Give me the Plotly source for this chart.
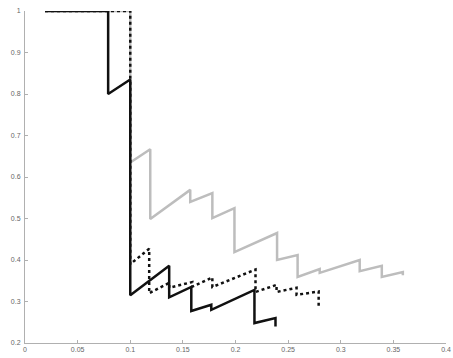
import plotly.graph_objects as go

# Grey solid series
grey_x = [0.019, 0.1, 0.1, 0.119, 0.119, 0.157, 0.157, 0.178, 0.178, 0.199, 0.199,
          0.2395, 0.2395, 0.259, 0.259, 0.28, 0.28, 0.318, 0.318, 0.339, 0.339, 0.359, 0.359]
grey_y = [1.0, 1.0, 0.635, 0.667, 0.499, 0.569, 0.54, 0.561, 0.501, 0.525, 0.419,
          0.465, 0.40, 0.412, 0.359, 0.378, 0.369, 0.40, 0.373, 0.386, 0.359, 0.371, 0.363]

# Black solid series
solid_x = [0.019, 0.079, 0.079, 0.1, 0.1, 0.137, 0.137, 0.158, 0.158, 0.177, 0.177,
           0.218, 0.218, 0.238, 0.238]
solid_y = [1.0, 1.0, 0.8, 0.835, 0.315, 0.386, 0.31, 0.335, 0.277, 0.292, 0.28,
           0.328, 0.248, 0.26, 0.24]

# Black dotted series
dot_x = [0.019, 0.1, 0.1, 0.118, 0.118, 0.137, 0.137, 0.159, 0.159, 0.178, 0.178,
         0.219, 0.219, 0.239, 0.239, 0.258, 0.258, 0.279, 0.279]
dot_y = [1.0, 1.0, 0.39, 0.427, 0.32, 0.345, 0.333, 0.347, 0.336, 0.358, 0.335,
         0.377, 0.323, 0.34, 0.323, 0.333, 0.316, 0.324, 0.285]

x_ticks = [0, 0.05, 0.1, 0.15, 0.2, 0.25, 0.3, 0.35, 0.4]
x_labels = ["0", "0.05", "0.1", "0.15", "0.2", "0.25", "0.3", "0.35", "0.4"]
y_ticks = [0.2, 0.3, 0.4, 0.5, 0.6, 0.7, 0.8, 0.9, 1.0]
y_labels = ["0.2", "0.3", "0.4", "0.5", "0.6", "0.7", "0.8", "0.9", "1"]

fig = go.Figure()
fig.add_trace(go.Scatter(x=grey_x, y=grey_y, mode="lines",
                         line=dict(color="#bdbdbd", width=2.5), showlegend=False))
fig.add_trace(go.Scatter(x=solid_x, y=solid_y, mode="lines",
                         line=dict(color="#111111", width=2.5), showlegend=False))
fig.add_trace(go.Scatter(x=dot_x, y=dot_y, mode="lines",
                         line=dict(color="#111111", width=2.5, dash="dot"), showlegend=False))

axis_common = dict(showgrid=False, zeroline=False, showline=True, linecolor="#b0b0b0",
                   linewidth=1, ticks="inside", ticklen=3, tickcolor="#b0b0b0",
                   automargin=False,
                   tickfont=dict(family="Liberation Sans, Arial", size=7, color="#666666"))

fig.update_xaxes(range=[0, 0.4], tickvals=x_ticks, ticktext=x_labels, **axis_common)
fig.update_yaxes(range=[0.2, 1.0], tickvals=y_ticks, ticktext=y_labels, ticklabelstandoff=2,
                 **axis_common)

fig.update_layout(width=453, height=358, margin=dict(l=25, r=7, t=11, b=15),
                  plot_bgcolor="white", paper_bgcolor="white")

fig.write_html("out.html", config={"displayModeBar": False},
               post_script="document.body.style.margin='0';document.body.style.overflow='hidden';")
